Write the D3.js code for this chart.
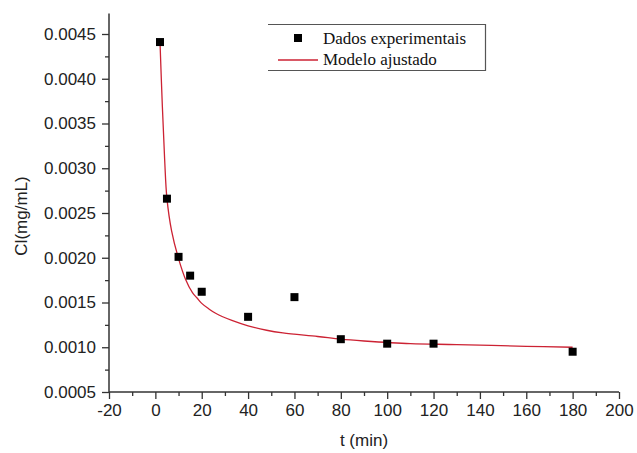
<!DOCTYPE html>
<html>
<head>
<meta charset="utf-8">
<script src="https://cdn.jsdelivr.net/npm/d3@7"></script>
<style>
    body { margin: 0; background: #fff; }
    svg { display: block; }
    .axis path, .axis line { stroke: #333; }
    .axis text { font-family: "Liberation Sans", Arial, sans-serif; font-size: 17px; fill: #222; }
</style>
</head>
<body>
<div id="chart"></div>
<script>
// experimental points
const tExp = [2, 5, 10, 15, 20, 40, 60, 80, 100, 120, 180];
const cExp = [0.00441, 0.00266, 0.00201, 0.00180, 0.00162, 0.00134, 0.00156, 0.00109, 0.00104, 0.00104, 0.00095];

// fitted model curve
const tFit = [2, 3, 4, 5, 7, 10, 13, 16, 18, 20, 23, 26, 33, 40, 48, 55, 70, 80, 90, 110, 130, 160, 180];
const cFit = [0.00441, 0.0037, 0.0031, 0.00266, 0.00230, 0.00199, 0.00176, 0.00161, 0.00155, 0.00149, 0.00143, 0.00138, 0.00130, 0.00124, 0.00119, 0.00116, 0.00112, 0.00109, 0.00107, 0.00104, 0.00103, 0.00101, 0.00100];

const xTicks = [-20, 0, 20, 40, 60, 80, 100, 120, 140, 160, 180, 200];
const yTicks = [0.0005, 0.0010, 0.0015, 0.0020, 0.0025, 0.0030, 0.0035, 0.0040, 0.0045];

const legendLabels = ['Dados experimentais', 'Modelo ajustado'];

const width = 637;
const height = 453;

const svg = d3.select('#chart')
    .append('svg')
    .attr('width', width)
    .attr('height', height);

const x = d3.scaleLinear()
    .domain([-20, 200])
    .range([109, 619]);

const y = d3.scaleLinear()
    .domain([0.0005, 0.0045])
    .range([392, 34]);

// y axis goes a little above the last tick
const yTop = 0.00473;

// minor ticks
const xMinor = d3.range(-10, 200, 20);
const yMinor = d3.range(0.00075, 0.0047, 0.0005);

const xAxis = svg.append('g')
    .attr('class', 'axis')
    .attr('transform', `translate(0,${y(0.0005)})`)
    .call(d3.axisBottom(x).tickValues(xTicks).tickSize(7).tickPadding(5).tickFormat(d => String(d)));
xAxis.select('.domain').attr('d', `M${x(-20)},0H${x(200)}`).attr('stroke-width', 1.5);
xAxis.selectAll('.tick line').attr('stroke-width', 1.3);

svg.append('g')
    .attr('class', 'axis')
    .attr('transform', `translate(0,${y(0.0005)})`)
    .call(d3.axisBottom(x).tickValues(xMinor).tickSize(4).tickFormat(''))
    .call(g => g.select('.domain').remove())
    .selectAll('.tick line').attr('stroke-width', 1.3);

const yAxis = svg.append('g')
    .attr('class', 'axis')
    .attr('transform', `translate(${x(-20)},0)`)
    .call(d3.axisLeft(y).tickValues(yTicks).tickSize(7).tickPadding(6).tickFormat(d3.format('.4f')));
yAxis.select('.domain').attr('d', `M0,${y(yTop)}V${y(0.0005)}`).attr('stroke-width', 1.5);
yAxis.selectAll('.tick line').attr('stroke-width', 1.3);

svg.append('g')
    .attr('class', 'axis')
    .attr('transform', `translate(${x(-20)},0)`)
    .call(d3.axisLeft(y).tickValues(yMinor).tickSize(4).tickFormat(''))
    .call(g => g.select('.domain').remove())
    .selectAll('.tick line').attr('stroke-width', 1.3);

// axis titles
svg.append('text')
    .attr('x', (x(-20) + x(200)) / 2)
    .attr('y', 446)
    .attr('text-anchor', 'middle')
    .attr('font-family', '"Liberation Sans", Arial, sans-serif')
    .attr('font-size', 17)
    .attr('fill', '#222')
    .text('t (min)');

svg.append('text')
    .attr('transform', `translate(27,${y(0.0025) + 3}) rotate(-90)`)
    .attr('text-anchor', 'middle')
    .attr('font-family', '"Liberation Sans", Arial, sans-serif')
    .attr('font-size', 17)
    .attr('fill', '#222')
    .text('Cl(mg/mL)');

// fitted curve
const fitData = tFit.map((t, i) => ({t: t, c: cFit[i]}));
const line = d3.line()
    .x(d => x(d.t))
    .y(d => y(d.c))
    .curve(d3.curveCatmullRom.alpha(0.5));

svg.append('path')
    .datum(fitData)
    .attr('d', line)
    .attr('fill', 'none')
    .attr('stroke', '#cc2233')
    .attr('stroke-width', 1.3);

// experimental points
const expData = tExp.map((t, i) => ({t: t, c: cExp[i]}));
const size = 8;
svg.selectAll('.pt')
    .data(expData)
    .enter()
    .append('rect')
    .attr('class', 'pt')
    .attr('x', d => x(d.t) - size / 2)
    .attr('y', d => y(d.c) - size / 2)
    .attr('width', size)
    .attr('height', size)
    .attr('fill', '#000');

// legend
const legend = svg.append('g').attr('class', 'legend');
legend.append('path')
    .attr('d', 'M268,24.5H485.5V70.5H268')
    .attr('fill', 'none')
    .attr('stroke', '#555')
    .attr('stroke-width', 1.2);

legend.append('rect')
    .attr('x', 294)
    .attr('y', 34)
    .attr('width', 8)
    .attr('height', 8)
    .attr('fill', '#000');

legend.append('line')
    .attr('x1', 278)
    .attr('x2', 318)
    .attr('y1', 60)
    .attr('y2', 60)
    .attr('stroke', '#cc2233')
    .attr('stroke-width', 1.3);

legend.selectAll('.lbl')
    .data(legendLabels)
    .enter()
    .append('text')
    .attr('class', 'lbl')
    .attr('x', 323)
    .attr('y', (d, i) => 44 + i * 21)
    .attr('font-family', '"Liberation Serif", "Times New Roman", serif')
    .attr('font-size', 17)
    .attr('fill', '#111')
    .text(d => d);
</script>
</body>
</html>
